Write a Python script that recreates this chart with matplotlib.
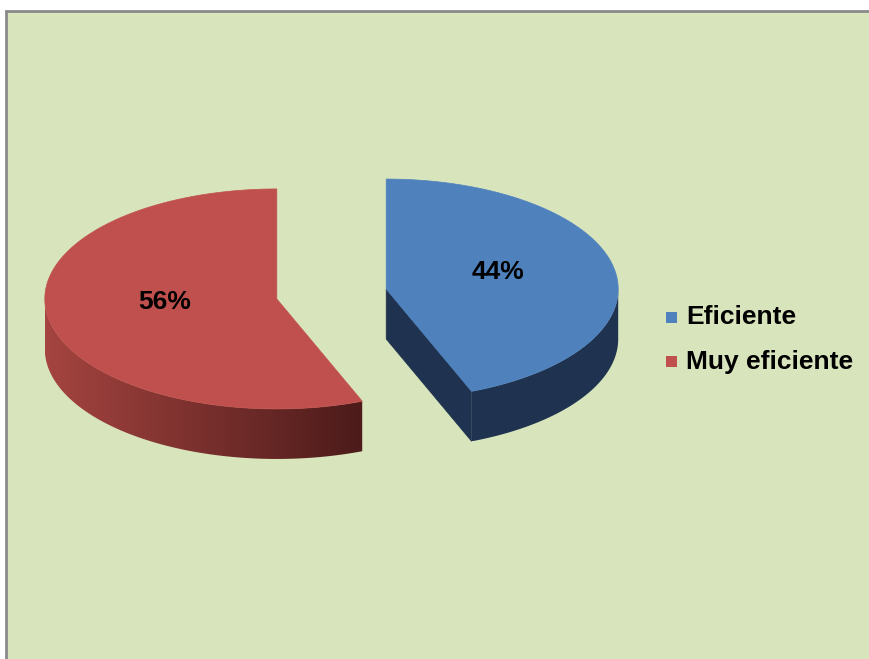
"""Exploded 3D-style pie: Eficiente vs Muy eficiente."""

import numpy as np
import matplotlib
matplotlib.use("Agg")
import matplotlib.pyplot as plt
from matplotlib.patches import Polygon, Rectangle
from matplotlib.colors import to_rgb

categories = ["Eficiente", "Muy eficiente"]
values = [44, 56]
value_labels = ["44%", "56%"]

top_colors = ["#4F81BD", "#C0504D"]
side_left = ["#1F3350", "#A54440"]
side_right = ["#1F3350", "#4C1B1A"]

W, H = 869, 659
CX, CY = 331.5, 294.0
RX, RY = 232.0, 110.0
DEPTH = 50.0
EXPLODE = 0.24
FONT = ["Liberation Sans", "DejaVu Sans"]
FS = 19


def ell(cx, cy, ang, r=1.0):
    a = np.radians(ang)
    return cx + r * RX * np.cos(a), cy - r * RY * np.sin(a)


fig = plt.figure(figsize=(W / 100, H / 100), dpi=100, facecolor="white")
ax = fig.add_axes([0, 0, 1, 1])
ax.set_xlim(0, W)
ax.set_ylim(H, 0)
ax.axis("off")

ax.add_patch(Rectangle((5.5, 10.5), W + 20, H + 20, facecolor="#D8E4BC",
                       edgecolor="#8A8A8A", linewidth=2, zorder=0))

# slices go clockwise from 12 o'clock
total = float(sum(values))
end = 90.0
for i, v in enumerate(values):
    span = v / total * 360.0
    t2, t1 = end, end - span
    end = t1
    mid = (t1 + t2) / 2
    ox = EXPLODE * RX * np.cos(np.radians(mid))
    oy = -EXPLODE * RY * np.sin(np.radians(mid))
    cx, cy = CX + ox, CY + oy

    # radial faces
    for edge, visible in ((t1, np.cos(np.radians(t1)) > 1e-6),
                          (t2, np.cos(np.radians(t2)) < -1e-6)):
        if visible:
            ex, ey = ell(cx, cy, edge)
            ax.add_patch(Polygon([(cx, cy), (ex, ey), (ex, ey + DEPTH), (cx, cy + DEPTH)],
                                 closed=True, facecolor=side_left[i], edgecolor=side_left[i],
                                 linewidth=0.5, zorder=2))

    # outer curved side (front half only), shaded left to right
    angs = np.linspace(t1, t2, 600)
    xs, ys = ell(cx, cy, angs)
    vis = np.sin(np.radians(angs)) <= 0
    if vis.any():
        sx, sy = xs[vis], ys[vis]
        outline = list(zip(sx, sy)) + list(zip(sx[::-1], sy[::-1] + DEPTH))
        side = Polygon(outline, closed=True, facecolor="none", edgecolor="none", zorder=2)
        ax.add_patch(side)
        c1, c2 = np.array(to_rgb(side_left[i])), np.array(to_rgb(side_right[i]))
        t = np.linspace(0, 1, 256)[None, :, None]
        grad = c1 + (c2 - c1) * t
        img = ax.imshow(grad, extent=(sx.min(), sx.max(), sy.max() + DEPTH, sy.min()),
                        aspect="auto", interpolation="bilinear", zorder=2)
        img.set_clip_path(side)

    # top face
    pts = [(cx, cy)] + list(zip(xs, ys))
    ax.add_patch(Polygon(pts, closed=True, facecolor=top_colors[i],
                         edgecolor=top_colors[i], linewidth=0.5, zorder=3))

    lx, ly = ell(cx, cy, mid, 0.49)
    ax.text(lx, ly, value_labels[i], ha="center", va="baseline", fontsize=FS,
            fontweight="bold", family=FONT, color="black", zorder=5)

ax.set_xlim(0, W)
ax.set_ylim(H, 0)

# legend
for i, name in enumerate(categories):
    yc = 317 + i * 44
    ax.add_patch(Rectangle((666, yc - 5.5), 11, 11, facecolor=top_colors[i],
                           edgecolor="none", zorder=4))
    ax.text(686, yc + 7.5, name, ha="left", va="baseline", fontsize=FS,
            fontweight="bold", family=FONT, color="black", zorder=5)

fig.savefig("out.png", dpi=100, facecolor="white")
